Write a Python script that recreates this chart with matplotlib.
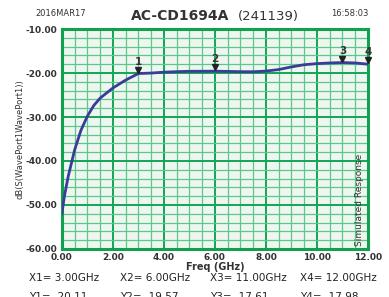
import numpy as np
import matplotlib.pyplot as plt
from matplotlib.ticker import MultipleLocator

freq = [0, 0.1, 0.25, 0.5, 0.75, 1.0, 1.25, 1.5, 2.0, 2.5, 3.0, 3.5, 4.0, 4.5, 5.0, 6.0,
        7.0, 7.5, 8.0, 8.5, 9.0, 9.5, 10.0, 10.5, 11.0, 11.5, 12.0]
db = [-52.0, -48.0, -43.5, -37.5, -33.0, -29.8, -27.4, -25.7, -23.4, -21.6, -20.11,
      -20.0, -19.8, -19.68, -19.6, -19.57, -19.68, -19.7, -19.55, -19.2, -18.6, -18.1,
      -17.85, -17.7, -17.61, -17.7, -17.98]

mark_x = [3.0, 6.0, 11.0, 12.0]
mark_y = [-20.11, -19.57, -17.61, -17.98]
mark_lbl = ['1', '2', '3', '4']

xticks = [0, 2, 4, 6, 8, 10, 12]
yticks = [-60, -50, -40, -30, -20, -10]

fig = plt.figure(figsize=(3.89, 2.97), dpi=100)
ax = fig.add_axes([0.159, 0.162, 0.787, 0.740])
ax.set_facecolor('#eef7ef')

ax.plot(freq, db, c='#3b3b98', lw=2.0, zorder=5)

for mx, my, ml in zip(mark_x, mark_y, mark_lbl):
    ax.plot(mx, my + 0.9, marker='v', c='#222222', ms=4.5, zorder=6, clip_on=False)
    ax.text(mx, my + 1.6, ml, ha='center', va='bottom', fontsize=7.5,
            fontweight='bold', color='#333333', zorder=6)

ax.set_xlim(0, 12)
ax.set_ylim(-60, -10)
ax.set_xticks(xticks)
ax.set_yticks(yticks)
ax.xaxis.set_minor_locator(MultipleLocator(0.5))
ax.yaxis.set_minor_locator(MultipleLocator(2))
ax.grid(which='minor', color='#5cc68b', lw=0.9)
ax.grid(which='major', color='#13a556', lw=1.4)
ax.set_axisbelow(True)
ax.tick_params(which='both', length=0, labelsize=6.5, pad=3)
ax.set_xticklabels(['%.2f' % v for v in xticks], fontweight='bold', color='#333333')
ax.set_yticklabels(['%.2f' % v for v in yticks], fontweight='bold', color='#333333')
for s in ax.spines.values():
    s.set_color('#10a050')
    s.set_linewidth(2.2)

ax.set_xlabel('Freq (GHz)', fontsize=7, fontweight='bold', color='#333333', labelpad=0)
ax.set_ylabel('dB(S(WavePort1WavePort1))', fontsize=6, color='#333333', labelpad=1)
ax.text(11.85, -59.3, 'Simulated Response', rotation=90, ha='right', va='bottom',
        fontsize=6.5, color='#333333')

fig.text(0.589, 0.945, 'AC-CD1694A', ha='right', va='center', fontsize=10,
         fontweight='bold', color='#333333')
fig.text(0.612, 0.945, '(241139)', ha='left', va='center', fontsize=9.5, color='#333333')
fig.text(0.092, 0.955, '2016MAR17', ha='left', va='center', fontsize=6, color='#333333')
fig.text(0.946, 0.955, '16:58:03', ha='right', va='center', fontsize=6, color='#333333')

xs = [0.075, 0.308, 0.54, 0.772]
for i in range(4):
    fig.text(xs[i], 0.065, 'X%d= %.2fGHz' % (i + 1, mark_x[i]), ha='left', va='center',
             fontsize=7.5, color='#222222')
    fig.text(xs[i], 0.0, 'Y%d= %.2f' % (i + 1, mark_y[i]), ha='left', va='center',
             fontsize=7.5, color='#222222')

fig.savefig('out.png', dpi=100)
